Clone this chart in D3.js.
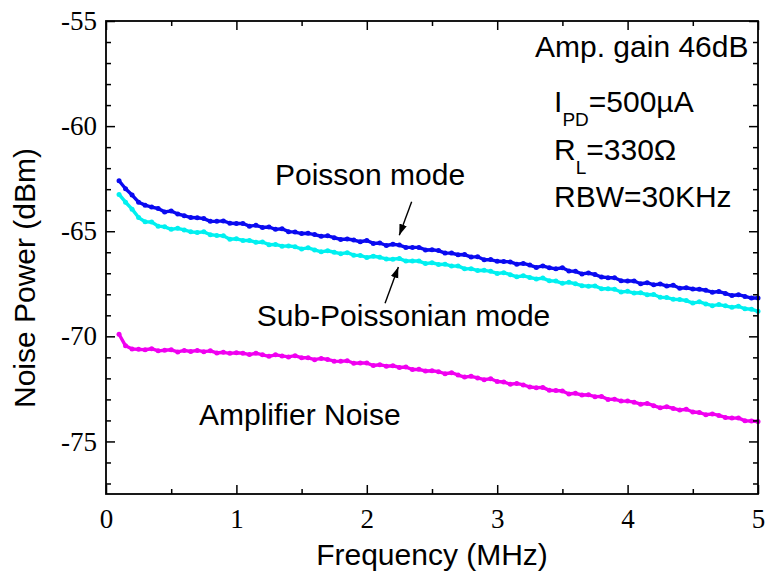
<!DOCTYPE html>
<html>
<head>
<meta charset="utf-8">
<script src="https://cdn.jsdelivr.net/npm/d3@7"></script>
<style>
  body { margin: 0; background: #fff; }
  .tick text { font-family: "Liberation Serif", serif; font-size: 27px; fill: #000; }
  .tick line { stroke: #000; stroke-width: 1.5; }
  .lbl { font-family: "Liberation Sans", Arial, sans-serif; font-size: 30px; fill: #000; }
  .sub { font-size: 19px; }
</style>
</head>
<body>
<svg id="chart" width="768" height="583"></svg>
<script>
// frequency grid (MHz)
const freq = [0.10,0.15,0.20,0.25,0.30,0.35,0.40,0.45,0.50,0.55,0.60,0.65,0.70,0.75,0.80,0.85,0.90,0.95,
  1.00,1.05,1.10,1.15,1.20,1.25,1.30,1.35,1.40,1.45,1.50,1.55,1.60,1.65,1.70,1.75,1.80,1.85,1.90,1.95,
  2.00,2.05,2.10,2.15,2.20,2.25,2.30,2.35,2.40,2.45,2.50,2.55,2.60,2.65,2.70,2.75,2.80,2.85,2.90,2.95,
  3.00,3.05,3.10,3.15,3.20,3.25,3.30,3.35,3.40,3.45,3.50,3.55,3.60,3.65,3.70,3.75,3.80,3.85,3.90,3.95,
  4.00,4.05,4.10,4.15,4.20,4.25,4.30,4.35,4.40,4.45,4.50,4.55,4.60,4.65,4.70,4.75,4.80,4.85,4.90,4.95,5.00];

// noise power (dBm)
const poisson = [-62.60,-62.98,-63.28,-63.62,-63.76,-63.85,-63.92,-64.08,-64.04,-64.18,-64.26,-64.35,-64.36,-64.40,-64.53,-64.53,-64.51,-64.62,
  -64.63,-64.63,-64.76,-64.72,-64.82,-64.80,-64.91,-64.88,-65.02,-65.04,-65.11,-65.10,-65.16,-65.24,-65.22,-65.31,-65.39,-65.37,-65.42,-65.50,
  -65.44,-65.58,-65.56,-65.68,-65.62,-65.66,-65.77,-65.77,-65.77,-65.89,-65.88,-65.92,-66.04,-66.04,-66.12,-66.11,-66.23,-66.21,-66.36,-66.35,
  -66.43,-66.44,-66.46,-66.57,-66.53,-66.61,-66.72,-66.65,-66.74,-66.79,-66.74,-66.89,-66.91,-67.03,-66.99,-67.06,-67.18,-67.21,-67.21,-67.36,
  -67.37,-67.37,-67.50,-67.45,-67.55,-67.51,-67.61,-67.57,-67.71,-67.69,-67.75,-67.76,-67.81,-67.90,-67.87,-67.96,-68.06,-68.02,-68.10,-68.18,-68.18];
const subPoisson = [-63.25,-63.62,-63.95,-64.35,-64.55,-64.56,-64.76,-64.79,-64.91,-64.86,-64.94,-65.03,-65.06,-65.03,-65.17,-65.20,-65.22,-65.38,
  -65.36,-65.44,-65.44,-65.53,-65.51,-65.64,-65.63,-65.71,-65.70,-65.74,-65.84,-65.79,-65.89,-65.98,-65.93,-66.00,-66.07,-66.02,-66.14,-66.15,
  -66.25,-66.19,-66.24,-66.32,-66.33,-66.30,-66.42,-66.42,-66.42,-66.54,-66.50,-66.58,-66.57,-66.66,-66.65,-66.79,-66.78,-66.87,-66.86,-66.91,
  -67.01,-66.97,-67.07,-67.17,-67.12,-67.20,-67.27,-67.23,-67.36,-67.37,-67.48,-67.43,-67.50,-67.59,-67.62,-67.60,-67.74,-67.74,-67.76,-67.89,
  -67.86,-67.94,-67.93,-68.02,-68.01,-68.14,-68.15,-68.24,-68.25,-68.30,-68.42,-68.36,-68.46,-68.54,-68.49,-68.55,-68.62,-68.57,-68.69,-68.71,-68.81];
const ampNoise = [-69.90,-70.45,-70.60,-70.62,-70.64,-70.59,-70.69,-70.66,-70.64,-70.74,-70.67,-70.72,-70.67,-70.73,-70.69,-70.79,-70.76,-70.81,
  -70.78,-70.80,-70.87,-70.80,-70.88,-70.95,-70.88,-70.93,-70.98,-70.92,-71.02,-71.02,-71.11,-71.05,-71.10,-71.18,-71.19,-71.16,-71.28,-71.27,
  -71.27,-71.39,-71.35,-71.42,-71.40,-71.48,-71.46,-71.58,-71.57,-71.65,-71.64,-71.68,-71.78,-71.73,-71.84,-71.94,-71.90,-71.98,-72.06,-72.02,
  -72.15,-72.17,-72.28,-72.24,-72.31,-72.41,-72.44,-72.43,-72.57,-72.58,-72.60,-72.74,-72.71,-72.79,-72.78,-72.87,-72.86,-73.00,-72.99,-73.08,
  -73.08,-73.13,-73.23,-73.19,-73.30,-73.40,-73.35,-73.43,-73.51,-73.47,-73.60,-73.62,-73.73,-73.69,-73.76,-73.86,-73.89,-73.88,-74.02,-74.03,-74.05];

const xTicks = [0, 1, 2, 3, 4, 5];
const xMinor = [0.5, 1.5, 2.5, 3.5, 4.5];
const yTicks = [-75, -70, -65, -60, -55];
const yMinor = [-77, -76, -74, -73, -72, -71, -69, -68, -67, -66, -64, -63, -62, -61, -59, -58, -57, -56];

const series = [
  { name: 'Poisson mode', values: poisson, color: '#0a0af0' },
  { name: 'Sub-Poissonian mode', values: subPoisson, color: '#00f0f0' },
  { name: 'Amplifier Noise', values: ampNoise, color: '#f000f0' }
];

const plotL = 106, plotR = 758, plotT = 21, plotB = 494;
const x = d3.scaleLinear().domain([0, 5]).range([plotL, plotR]);
const y = d3.scaleLinear().domain([-77.5, -55]).range([plotB, plotT]);

const svg = d3.select('#chart');

// data: a thin trace plus the measured points
const line = d3.line().x((d, i) => x(freq[i])).y(d => y(d));
series.forEach(s => {
  svg.append('path')
    .attr('d', line(s.values))
    .attr('fill', 'none')
    .attr('stroke', s.color)
    .attr('stroke-width', 3.4)
    .attr('stroke-linejoin', 'round');
  svg.append('g').selectAll('circle')
    .data(s.values)
    .enter().append('circle')
    .attr('cx', (d, i) => x(freq[i]))
    .attr('cy', d => y(d))
    .attr('r', 2.5)
    .attr('fill', s.color);
});

// axes, ticks pointing inward on all four sides
function addAxis(axisFn, scale, pos, values, size, pad) {
  const a = axisFn(scale).tickValues(values).tickSizeInner(-size).tickSizeOuter(0);
  if (pad) a.tickPadding(pad).tickFormat(d => String(d));
  else a.tickFormat('');
  const g = svg.append('g').attr('transform', pos).call(a);
  g.select('.domain').remove();
  return g;
}
addAxis(d3.axisBottom, x, `translate(0,${plotB})`, xTicks, 9, 15);
addAxis(d3.axisBottom, x, `translate(0,${plotB})`, xMinor, 5, 0);
addAxis(d3.axisTop, x, `translate(0,${plotT})`, xTicks, 9, 0);
addAxis(d3.axisTop, x, `translate(0,${plotT})`, xMinor, 5, 0);
addAxis(d3.axisLeft, y, `translate(${plotL},0)`, yTicks, 9, 9);
addAxis(d3.axisLeft, y, `translate(${plotL},0)`, yMinor, 5, 0);
addAxis(d3.axisRight, y, `translate(${plotR},0)`, yTicks, 9, 0);
addAxis(d3.axisRight, y, `translate(${plotR},0)`, yMinor, 5, 0);

svg.append('rect')
  .attr('x', plotL).attr('y', plotT)
  .attr('width', plotR - plotL).attr('height', plotB - plotT)
  .attr('fill', 'none').attr('stroke', '#000').attr('stroke-width', 1.8);

// axis titles
svg.append('text').attr('class', 'lbl')
  .attr('x', (plotL + plotR) / 2).attr('y', 565)
  .attr('text-anchor', 'middle')
  .text('Frequency (MHz)');
svg.append('text').attr('class', 'lbl')
  .attr('transform', 'translate(35,278) rotate(-90)')
  .attr('text-anchor', 'middle')
  .text('Noise Power (dBm)');

// annotations
svg.append('defs').append('marker')
  .attr('id', 'arr').attr('viewBox', '0 0 10 10')
  .attr('refX', 10).attr('refY', 5)
  .attr('markerWidth', 11).attr('markerHeight', 11)
  .attr('markerUnits', 'userSpaceOnUse')
  .attr('orient', 'auto')
  .append('path').attr('d', 'M0,1.5L10,5L0,8.5Z').attr('fill', '#000');

svg.append('line')
  .attr('x1', x(2.344)).attr('y1', y(-63.6))
  .attr('x2', x(2.249)).attr('y2', y(-65.19))
  .attr('stroke', '#000').attr('stroke-width', 1.4)
  .attr('marker-end', 'url(#arr)');
svg.append('line')
  .attr('x1', x(2.14)).attr('y1', y(-68.43))
  .attr('x2', x(2.242)).attr('y2', y(-66.7))
  .attr('stroke', '#000').attr('stroke-width', 1.4)
  .attr('marker-end', 'url(#arr)');

svg.append('text').attr('class', 'lbl').attr('x', x(1.296)).attr('y', y(-62.81)).text('Poisson mode');
svg.append('text').attr('class', 'lbl').attr('x', x(1.156)).attr('y', y(-69.52)).text('Sub-Poissonian mode');
svg.append('text').attr('class', 'lbl').attr('x', x(0.713)).attr('y', y(-74.24)).text('Amplifier Noise');

svg.append('text').attr('class', 'lbl').attr('x', x(3.29)).attr('y', y(-56.71)).text('Amp. gain 46dB');
const t1 = svg.append('text').attr('class', 'lbl').attr('x', x(3.436)).attr('y', y(-59.33));
t1.append('tspan').text('I');
t1.append('tspan').attr('class', 'sub').attr('dy', 14).text('PD');
t1.append('tspan').attr('dy', -14).text('=500\u00b5A');
const t2 = svg.append('text').attr('class', 'lbl').attr('x', x(3.436)).attr('y', y(-61.62));
t2.append('tspan').text('R');
t2.append('tspan').attr('class', 'sub').attr('dy', 14).text('L');
t2.append('tspan').attr('dy', -14).text('=330\u03a9');
svg.append('text').attr('class', 'lbl').attr('x', x(3.436)).attr('y', y(-63.86)).text('RBW=30KHz');
</script>
</body>
</html>
